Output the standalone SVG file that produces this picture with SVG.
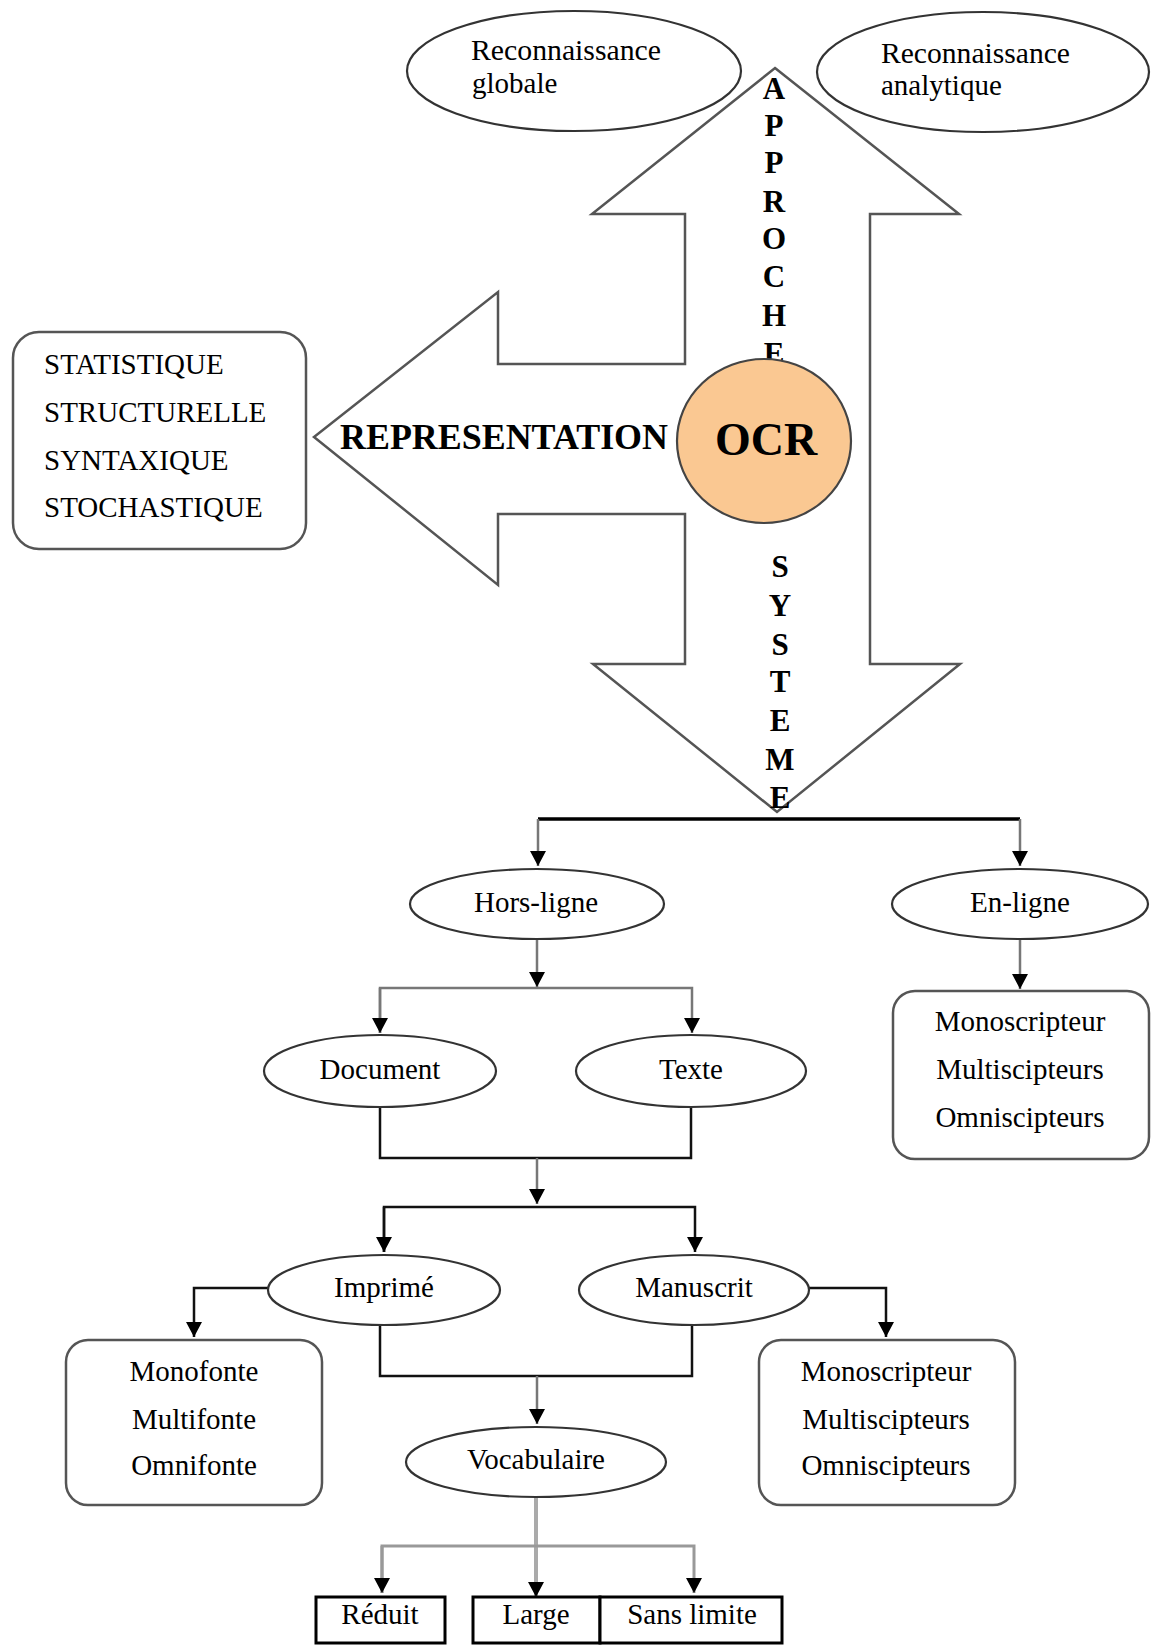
<svg xmlns="http://www.w3.org/2000/svg" width="1152" height="1652" viewBox="0 0 1152 1652">
<style>
text{font-family:"Liberation Serif","Times New Roman",serif;fill:#000}
.t{font-size:29px}
.c{text-anchor:middle}
.v{font-size:31px;font-weight:bold;text-anchor:middle}
.ell{fill:#fff;stroke:#333;stroke-width:2.2}
.box{fill:#fff;stroke:#555;stroke-width:2.5}
.sq{fill:#fff;stroke:#000;stroke-width:3}
.ln{fill:none;stroke:#111;stroke-width:2.5}
.lg{fill:none;stroke:#777;stroke-width:2.5}
.big{fill:#fff;stroke:#555;stroke-width:2.5;stroke-linejoin:miter}
</style>
<defs>
<marker id="ah" viewBox="0 0 15 16" refX="15" refY="8" markerWidth="15" markerHeight="16" markerUnits="userSpaceOnUse" orient="auto">
<path d="M0,0 L15,8 L0,16 z" fill="#000"/>
</marker>
</defs>
<rect width="1152" height="1652" fill="#fff"/>

<g id="big-arrows">
<polygon class="big" points="775,68 959,214 870,214 870,664 960,664 777,812 593,664 685,664 685,514 498,514 498,585 314,437 498,292 498,364 685,364 685,214 592,214"/>
</g>

<g id="approche">
<text class="v" x="774" y="99">A</text>
<text class="v" x="774" y="136">P</text>
<text class="v" x="774" y="173">P</text>
<text class="v" x="774" y="212">R</text>
<text class="v" x="774" y="249">O</text>
<text class="v" x="774" y="287">C</text>
<text class="v" x="774" y="326">H</text>
<text class="v" x="774" y="364">E</text>
</g>

<g id="systeme">
<text class="v" x="780" y="577">S</text>
<text class="v" x="780" y="616">Y</text>
<text class="v" x="780" y="655">S</text>
<text class="v" x="780" y="692">T</text>
<text class="v" x="780" y="731">E</text>
<text class="v" x="780" y="770">M</text>
<text class="v" x="780" y="808">E</text>
</g>

<g id="representation">
<text x="340" y="449" style="font-size:36px;font-weight:bold" textLength="328" lengthAdjust="spacingAndGlyphs">REPRESENTATION</text>
</g>

<g id="ocr">
<ellipse cx="764" cy="441" rx="87" ry="82" fill="#FAC892" stroke="#444" stroke-width="2.2"/>
<text x="766" y="455" class="c" style="font-size:46px;font-weight:bold">OCR</text>
</g>

<g id="rec-globale">
<ellipse class="ell" cx="574" cy="71" rx="167" ry="60"/>
<text class="t" x="471" y="60" textLength="190" lengthAdjust="spacingAndGlyphs">Reconnaissance</text>
<text class="t" x="472" y="93">globale</text>
</g>

<g id="rec-analytique">
<ellipse class="ell" cx="983" cy="72" rx="166" ry="60"/>
<text class="t" x="881" y="63" textLength="189" lengthAdjust="spacingAndGlyphs">Reconnaissance</text>
<text class="t" x="881" y="95">analytique</text>
</g>

<g id="representation-list">
<rect class="box" x="13" y="332" width="293" height="217" rx="26"/>
<text class="t" x="44" y="374">STATISTIQUE</text>
<text class="t" x="44" y="422">STRUCTURELLE</text>
<text class="t" x="44" y="470">SYNTAXIQUE</text>
<text class="t" x="44" y="517">STOCHASTIQUE</text>
</g>

<g id="connectors">
<path d="M538,819 H1020" fill="none" stroke="#000" stroke-width="3.5"/>
<path class="lg" d="M538,819 V866" marker-end="url(#ah)"/>
<path class="lg" d="M1020,819 V866" marker-end="url(#ah)"/>
<path class="lg" d="M537,940 V987" marker-end="url(#ah)"/>
<path class="lg" d="M380,1033 V988 H692 V1033" marker-end="url(#ah)"/>
<path class="lg" d="M380,988 V1033" marker-end="url(#ah)"/>
<path class="lg" d="M1020,940 V989" marker-end="url(#ah)"/>
<path class="ln" d="M380,1108 V1158 H691 V1108"/>
<path class="lg" d="M537,1158 V1204" marker-end="url(#ah)"/>
<path class="ln" d="M384,1252 V1207 H695 V1252" marker-end="url(#ah)"/>
<path class="ln" d="M384,1207 V1252" marker-end="url(#ah)"/>
<path class="ln" d="M268,1288 H194 V1337" marker-end="url(#ah)"/>
<path class="ln" d="M809,1288 H886 V1337" marker-end="url(#ah)"/>
<path class="ln" d="M380,1325 V1376 H692 V1325"/>
<path class="lg" d="M537,1376 V1424" marker-end="url(#ah)"/>
<path d="M536,1497 V1597" fill="none" stroke="#aaa" stroke-width="4" marker-end="url(#ah)"/>
<path d="M382,1593 V1546 H694 V1593" fill="none" stroke="#999" stroke-width="3" marker-end="url(#ah)"/>
<path d="M382,1546 V1593" fill="none" stroke="#999" stroke-width="3" marker-end="url(#ah)"/>
</g>

<g id="hors-ligne">
<ellipse class="ell" cx="537" cy="904" rx="127" ry="35"/>
<text class="t c" x="536" y="912">Hors-ligne</text>
</g>
<g id="en-ligne">
<ellipse class="ell" cx="1020" cy="904" rx="128" ry="35"/>
<text class="t c" x="1020" y="912">En-ligne</text>
</g>
<g id="en-ligne-box">
<rect class="box" x="893" y="991" width="256" height="168" rx="22"/>
<text class="t c" x="1020" y="1031">Monoscripteur</text>
<text class="t c" x="1020" y="1079">Multiscipteurs</text>
<text class="t c" x="1020" y="1127">Omniscipteurs</text>
</g>
<g id="document">
<ellipse class="ell" cx="380" cy="1071" rx="116" ry="36"/>
<text class="t c" x="380" y="1079">Document</text>
</g>
<g id="texte">
<ellipse class="ell" cx="691" cy="1071" rx="115" ry="36"/>
<text class="t c" x="691" y="1079">Texte</text>
</g>
<g id="imprime">
<ellipse class="ell" cx="384" cy="1290" rx="116" ry="35"/>
<text class="t c" x="384" y="1297">Imprimé</text>
</g>
<g id="manuscrit">
<ellipse class="ell" cx="694" cy="1290" rx="115" ry="35"/>
<text class="t c" x="694" y="1297">Manuscrit</text>
</g>
<g id="fonte-box">
<rect class="box" x="66" y="1340" width="256" height="165" rx="22"/>
<text class="t c" x="194" y="1381">Monofonte</text>
<text class="t c" x="194" y="1429">Multifonte</text>
<text class="t c" x="194" y="1475">Omnifonte</text>
</g>
<g id="scripteur-box">
<rect class="box" x="759" y="1340" width="256" height="165" rx="22"/>
<text class="t c" x="886" y="1381">Monoscripteur</text>
<text class="t c" x="886" y="1429">Multiscipteurs</text>
<text class="t c" x="886" y="1475">Omniscipteurs</text>
</g>
<g id="vocabulaire">
<ellipse class="ell" cx="536" cy="1462" rx="130" ry="35"/>
<text class="t c" x="536" y="1469">Vocabulaire</text>
</g>
<g id="reduit">
<rect class="sq" x="316" y="1597" width="129" height="46"/>
<text class="t c" x="380" y="1624">Réduit</text>
</g>
<g id="large">
<rect class="sq" x="473" y="1597" width="127" height="46"/>
<text class="t c" x="536" y="1624">Large</text>
</g>
<g id="sans-limite">
<rect class="sq" x="600" y="1597" width="182" height="46"/>
<text class="t c" x="692" y="1624">Sans limite</text>
</g>
</svg>
